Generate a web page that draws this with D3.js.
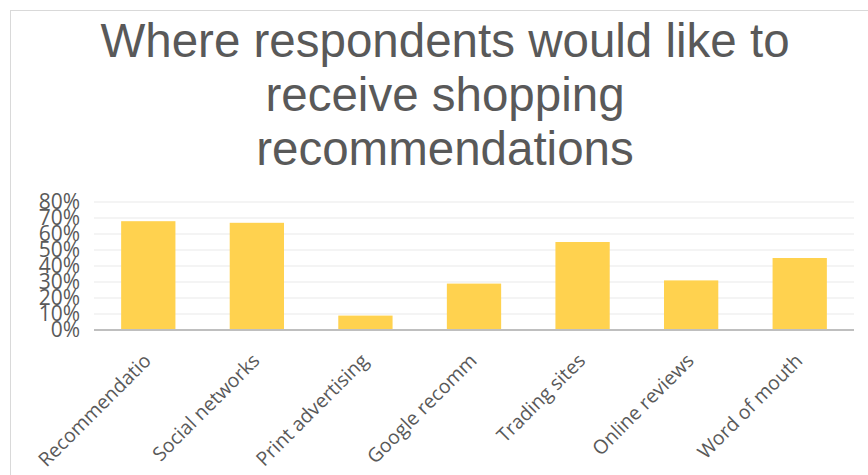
<!DOCTYPE html>
<html>
<head>
<meta charset="utf-8">
<script src="https://cdn.jsdelivr.net/npm/d3@7"></script>
<style>
  html, body { margin: 0; padding: 0; background: #fff; }
  #chart { width: 868px; height: 475px; }
</style>
</head>
<body>
<div id="chart"></div>
<script>
const categories = ['Recommendatio', 'Social networks', 'Print advertising', 'Google recomm', 'Trading sites', 'Online reviews', 'Word of mouth']
const values = [0.68, 0.67, 0.09, 0.29, 0.55, 0.31, 0.45]
const yTicks = [0, 0.1, 0.2, 0.3, 0.4, 0.5, 0.6, 0.7, 0.8]
const titleLines = ['Where respondents would like to', 'receive shopping', 'recommendations']

const width = 868, height = 475
const margin = { top: 202, right: 14, bottom: 145, left: 94 }
const innerW = width - margin.left - margin.right
const innerH = height - margin.top - margin.bottom

const svg = d3.select('#chart')
  .append('svg')
  .attr('width', width)
  .attr('height', height)

// chart border (only top and left edges visible)
svg.append('rect')
  .attr('x', 10.5).attr('y', 10.5)
  .attr('width', 900).attr('height', 500)
  .style('fill', 'none')
  .style('stroke', '#d9d9d9')
  .style('stroke-width', 1)

// title
svg.append('text')
  .attr('x', 445)
  .attr('y', 57)
  .style('text-anchor', 'middle')
  .style('font-family', '"Liberation Sans", Arial, sans-serif')
  .style('font-size', '47.5px')
  .style('fill', '#595959')
  .selectAll('tspan')
  .data(titleLines)
  .enter()
  .append('tspan')
  .attr('x', 445)
  .attr('dy', (d, i) => i === 0 ? 0 : 54)
  .text(d => d)

const g = svg.append('g')
  .attr('transform', `translate(${margin.left}, ${margin.top})`)

/* Y Scale and Axis */
const yScale = d3.scaleLinear()
  .domain([0, 0.8])
  .range([innerH, 0])

// gridlines
g.append('g')
  .selectAll('line')
  .data(yTicks.slice(1))
  .enter()
  .append('line')
  .attr('x1', 0).attr('x2', innerW)
  .attr('y1', d => yScale(d)).attr('y2', d => yScale(d))
  .style('stroke', '#f0f0f0')
  .style('stroke-width', 1.5)

const yAxis = d3.axisLeft(yScale)
  .tickValues(yTicks)
  .tickFormat(d3.format('.0%'))
  .tickSize(0)
  .tickPadding(14)

g.append('g')
  .call(yAxis)
  .call(s => s.select('.domain').remove())
  .selectAll('text')
  .style('font-family', '"Open Sans", sans-serif')
  .style('font-size', '21px')
  .style('fill', '#595959')

/* X Scale and Axis */
const xScale = d3.scaleBand()
  .domain(categories)
  .range([0, innerW])
  .paddingInner(0.5)
  .paddingOuter(0.25)

g.selectAll('rect.bar')
  .data(values)
  .enter()
  .append('rect')
  .attr('class', 'bar')
  .attr('x', (d, i) => xScale(categories[i]))
  .attr('y', d => yScale(d))
  .attr('width', xScale.bandwidth())
  .attr('height', d => innerH - yScale(d))
  .style('fill', '#FFD24F')

// baseline
g.append('line')
  .attr('x1', 0).attr('x2', innerW)
  .attr('y1', innerH).attr('y2', innerH)
  .style('stroke', '#bfbfbf')
  .style('stroke-width', 2)

const xAxis = d3.axisBottom(xScale)
  .tickSize(0)
  .tickPadding(0)

g.append('g')
  .attr('transform', `translate(0, ${innerH})`)
  .call(xAxis)
  .call(s => s.select('.domain').remove())
  .selectAll('text')
  .attr('y', 0)
  .attr('dy', 0)
  .attr('transform', 'translate(4, 32) rotate(-45)')
  .style('text-anchor', 'end')
  .style('font-family', '"Open Sans", sans-serif')
  .style('font-size', '19.5px')
  .style('fill', '#595959')
</script>
</body>
</html>
